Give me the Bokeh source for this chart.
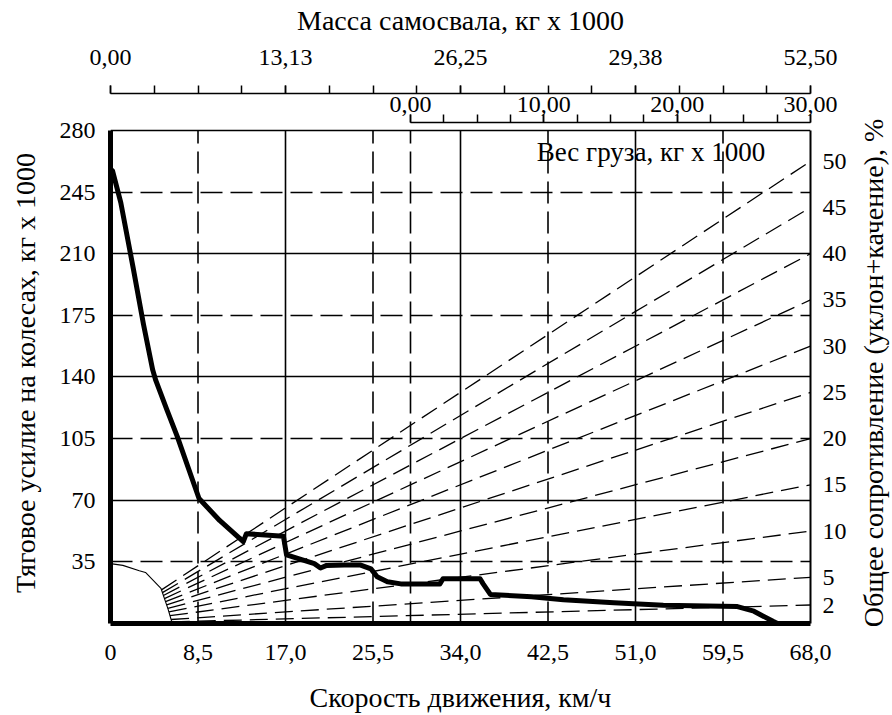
import numpy as np
from bokeh.plotting import figure
from bokeh.layouts import row
from bokeh.models import (Range1d, LinearAxis, FixedTicker, CustomJSTickFormatter,
                          Grid, Label, ColumnDataSource)
from bokeh.embed import file_html
from bokeh.resources import INLINE

FONT = "Liberation Serif"
FS = "24px"      # tick labels
FT = "28px"      # axis titles

# ---------------- data ----------------
speed_ticks = [0, 8.5, 17.0, 25.5, 34.0, 42.5, 51.0, 59.5, 68.0]
speed_labels = ["0", "8,5", "17,0", "25,5", "34,0", "42,5", "51,0", "59,5", "68,0"]
speed_solid = [17.0, 34.0, 51.0]
speed_dashed = [8.5, 25.5, 42.5, 59.5]

rimpull_ticks = [35, 70, 105, 140, 175, 210, 245, 280]
rimpull_solid = [70, 140, 210, 280]
rimpull_dashed = [35, 105, 175, 245]

mass_ticks = [0.0, 13.125, 26.25, 39.375, 52.5]
mass_labels = ["0,00", "13,13", "26,25", "29,38", "52,50"]
empty_mass = 22.5
max_mass = 52.5

cargo_ticks = [0, 10, 20, 30]
cargo_labels = ["0,00", "10,00", "20,00", "30,00"]

grades = [2, 5, 10, 15, 20, 25, 30, 35, 40, 45, 50]
grade_end_rimpull = [10.5, 26.25, 52.5, 78.75, 105.0, 131.25, 157.5, 183.75, 210.0, 236.25, 262.5]

# thin low-speed curve
thin_speed = [0.0, 1.2, 2.8, 3.4, 4.9, 5.6, 6.0]
thin_rimpull = [34, 33, 30, 29, 20, 8, 0]

# thick rimpull curve
curve_speed = [0.0, 0.2, 1.0, 2.2, 3.2, 4.1, 4.4, 5.5, 6.5, 8.6, 10.6, 12.9, 13.2, 16.8, 17.1,
               19.8, 20.4, 21.0, 22.7, 24.3, 25.3, 25.9, 26.9, 28.2, 32.0, 32.3, 35.9, 36.2,
               36.9, 40.9, 44.0, 48.9, 53.7, 60.9, 62.5, 64.4, 64.8]
curve_rimpull = [258, 257, 239, 202, 170, 144, 138, 121, 106, 71, 58.5, 46.5, 51, 49.5, 39,
                 34, 31.5, 33, 33.2, 33.2, 31, 26.5, 23.7, 22.5, 22.5, 25.4, 25.4, 22.5,
                 16.5, 15.2, 13.5, 11.8, 10.3, 9.6, 7, 1.1, 0]

# ---------------- figure ----------------
speed_max = speed_ticks[-1]
y_top = 284.5
W, H = 852, 715
W2 = 40
B_TOP, B_BOTTOM = 122, H - 627

p = figure(width=W, height=H, output_backend="svg", toolbar_location=None,
           x_range=Range1d(0, speed_max), y_range=Range1d(0, y_top),
           min_border_left=110, min_border_right=W - 810,
           min_border_top=B_TOP, min_border_bottom=B_BOTTOM)
p.outline_line_color = None
p.background_fill_color = "white"
p.border_fill_color = "white"
for g in p.grid:
    g.visible = False

p.extra_x_ranges = {"mass": Range1d(0, max_mass),
                    "cargo": Range1d(-empty_mass, max_mass - empty_mass)}


def labels_formatter(tvals, tlabels):
    return CustomJSTickFormatter(args=dict(tvals=list(tvals), tlabels=list(tlabels)), code="""
        for (let i = 0; i < tvals.length; i++) {
            if (Math.abs(tvals[i] - tick) < 1e-6) { return tlabels[i]; }
        }
        return "";
    """)


def style_axis(ax):
    ax.major_label_text_font = FONT
    ax.major_label_text_font_size = FS
    ax.major_label_text_color = "black"
    ax.axis_label_text_font = FONT
    ax.axis_label_text_font_size = FT
    ax.axis_label_text_font_style = "normal"
    ax.axis_label_text_color = "black"
    ax.axis_line_color = "black"
    ax.major_tick_line_color = "black"
    ax.minor_tick_line_color = "black"
    ax.major_tick_in = 0
    ax.minor_tick_in = 0


# horizontal grid lines
g_solid = Grid(dimension=1, ticker=FixedTicker(ticks=rimpull_solid),
               grid_line_color="black", grid_line_width=1.6)
g_dash = Grid(dimension=1, ticker=FixedTicker(ticks=rimpull_dashed),
              grid_line_color="black", grid_line_width=1.6, grid_line_dash="22 8")
p.add_layout(g_solid)
p.add_layout(g_dash)

# vertical grid lines (only up to 280)
empty_speed = empty_mass / max_mass * speed_max
vd = speed_dashed + [empty_speed]
p.segment(x0=speed_solid, y0=[0] * len(speed_solid), x1=speed_solid, y1=[280] * len(speed_solid),
          line_color="black", line_width=1.6)
p.segment(x0=vd, y0=[0] * len(vd), x1=vd, y1=[280] * len(vd),
          line_color="black", line_width=1.6, line_dash="22 8")

# grade (total resistance) lines, starting where they meet the thin curve
ss = np.linspace(thin_speed[0], thin_speed[-1], 6001)
cc = np.interp(ss, thin_speed, thin_rimpull)
x0s, y0s, x1s, y1s = [], [], [], []
for e in grade_end_rimpull:
    ll = e * ss / speed_max
    idx = int(np.argmax(ll >= cc))
    x0s.append(float(ss[idx])); y0s.append(float(ll[idx]))
    x1s.append(speed_max); y1s.append(e)
p.segment(x0="x0", y0="y0", x1="x1", y1="y1",
          source=ColumnDataSource(dict(x0=x0s, y0=y0s, x1=x1s, y1=y1s)),
          line_color="black", line_width=1.3, line_dash="18 8")

p.line(thin_speed, thin_rimpull, line_color="black", line_width=1.1)
p.line(curve_speed, curve_rimpull, line_color="black", line_width=5, line_join="round")

# ---------------- axes ----------------
xa = p.xaxis[0]
xa.ticker = FixedTicker(ticks=speed_ticks)
xa.formatter = labels_formatter(speed_ticks, speed_labels)
style_axis(xa)
xa.axis_line_width = 5
xa.major_tick_out = 0
xa.minor_tick_out = 0
xa.major_label_standoff = 21
xa.axis_label = "Скорость движения, км/ч"
xa.axis_label_standoff = 19

ya = p.yaxis[0]
ya.ticker = FixedTicker(ticks=rimpull_ticks)
ya.bounds = (0, 280)
style_axis(ya)
ya.axis_line_width = 5
ya.major_tick_out = 0
ya.minor_tick_out = 0
ya.major_label_standoff = 15
ya.axis_label = "Тяговое усилие на колесах, кг x 1000"
ya.axis_label_standoff = 16

# right axis: resistance labels at the ends of the grade lines
ra = LinearAxis(ticker=FixedTicker(ticks=grade_end_rimpull),
                formatter=labels_formatter(grade_end_rimpull, [str(g) for g in grades]),
                bounds=(0, 280))
style_axis(ra)
ra.axis_line_width = 2
ra.major_tick_out = 0
ra.minor_tick_out = 0
ra.major_label_standoff = 12
p.add_layout(ra, "right")

cargo_minor = [float(v) for v in np.arange(0, 30.001, 2.5)]
ca = LinearAxis(x_range_name="cargo", bounds=(0, 30),
                ticker=FixedTicker(ticks=cargo_ticks, minor_ticks=cargo_minor),
                formatter=labels_formatter(cargo_ticks, cargo_labels))
style_axis(ca)
ca.axis_line_width = 1.5
ca.major_tick_out = 8
ca.minor_tick_out = 8
ca.major_tick_line_width = 1.5
ca.minor_tick_line_width = 1.5
ca.major_label_standoff = 3
p.add_layout(ca, "above")

mass_minor = [float(v) for v in np.linspace(0, max_mass, 17)]
ma = LinearAxis(x_range_name="mass",
                ticker=FixedTicker(ticks=mass_ticks, minor_ticks=mass_minor),
                formatter=labels_formatter(mass_ticks, mass_labels))
style_axis(ma)
ma.axis_line_width = 1.5
ma.major_tick_out = 8
ma.minor_tick_out = 8
ma.major_tick_line_width = 1.5
ma.minor_tick_line_width = 1.5
ma.major_label_standoff = 21
ma.axis_label = "Масса самосвала, кг x 1000"
ma.axis_label_standoff = 11
p.add_layout(ma, "above")

p.add_layout(Label(x=41.4, y=267.5, text="Вес груза, кг x 1000", text_font=FONT,
                   text_font_size="27px", text_color="black", text_align="left",
                   text_baseline="middle"))

# ---------------- narrow strip carrying the right-hand title (reads bottom to top) ----------------
p2 = figure(width=W2, height=H, output_backend="svg", toolbar_location=None,
            x_range=Range1d(0, 1), y_range=Range1d(0, 1),
            min_border_left=36, min_border_right=0,
            min_border_top=B_TOP, min_border_bottom=B_BOTTOM)
p2.outline_line_color = None
p2.background_fill_color = "white"
p2.border_fill_color = "white"
for g in p2.grid:
    g.visible = False
p2.xaxis.visible = False
t_ax = p2.yaxis[0]
t_ax.ticker = FixedTicker(ticks=[])
style_axis(t_ax)
t_ax.axis_line_color = None
t_ax.major_tick_out = 0
t_ax.minor_tick_out = 0
t_ax.major_label_standoff = 0
t_ax.axis_label = "Общее сопротивление (уклон+качение), %"
t_ax.axis_label_standoff = 0

layout = row(p, p2)
open("out.html", "w").write(file_html(layout, INLINE))
